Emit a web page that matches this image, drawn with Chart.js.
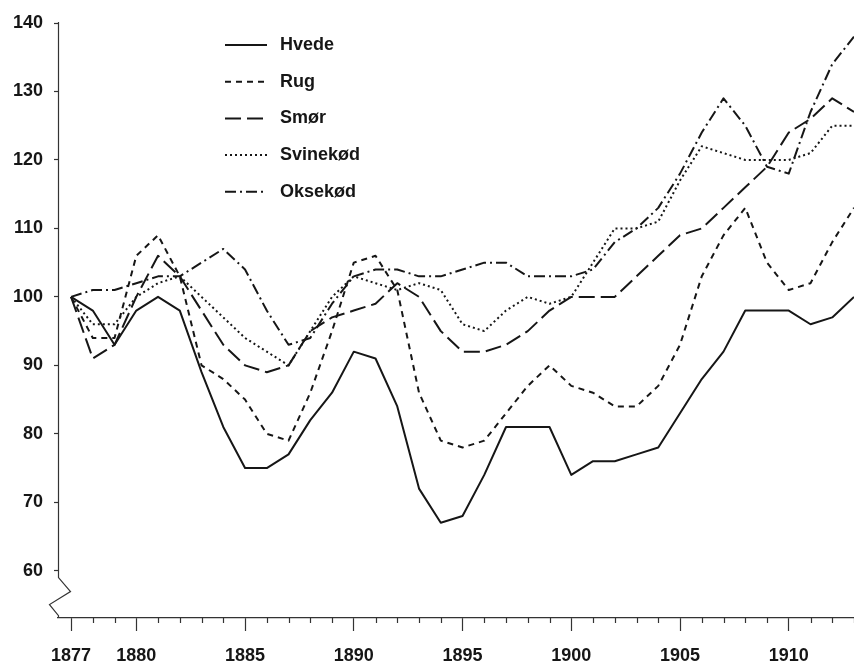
<!DOCTYPE html>
<html>
<head>
<meta charset="utf-8">
<script src="https://cdn.jsdelivr.net/npm/chart.js@4.4.1/dist/chart.umd.min.js"></script>
<style>
  html, body { margin: 0; padding: 0; background: #fff; }
  #wrap { width: 854px; height: 665px; }
</style>
</head>
<body>
<div id="wrap"><canvas id="chart" width="854" height="665"></canvas></div>
<script>
// år
const years = [1877, 1878, 1879, 1880, 1881, 1882, 1883, 1884, 1885, 1886,
               1887, 1888, 1889, 1890, 1891, 1892, 1893, 1894, 1895, 1896,
               1897, 1898, 1899, 1900, 1901, 1902, 1903, 1904, 1905, 1906,
               1907, 1908, 1909, 1910, 1911, 1912, 1913];

// prisindeks, 1877 = 100
const hvede = [100, 98, 93, 98, 100, 98, 89, 81, 75, 75,
               77, 82, 86, 92, 91, 84, 72, 67, 68, 74,
               81, 81, 81, 74, 76, 76, 77, 78, 83, 88,
               92, 98, 98, 98, 96, 97, 100];
const rug = [100, 94, 94, 106, 109, 103, 90, 88, 85, 80,
             79, 86, 95, 105, 106, 101, 86, 79, 78, 79,
             83, 87, 90, 87, 86, 84, 84, 87, 93, 103,
             109, 113, 105, 101, 102, 108, 113];
const smor = [100, 91, 93, 100, 106, 103, 98, 93, 90, 89,
              90, 95, 97, 98, 99, 102, 100, 95, 92, 92,
              93, 95, 98, 100, 100, 100, 103, 106, 109, 110,
              113, 116, 119, 124, 126, 129, 127];
const svinekod = [100, 96, 96, 100, 102, 103, 100, 97, 94, 92,
                  90, 95, 100, 103, 102, 101, 102, 101, 96, 95,
                  98, 100, 99, 100, 105, 110, 110, 111, 117, 122,
                  121, 120, 120, 120, 121, 125, 125];
const oksekod = [100, 101, 101, 102, 103, 103, 105, 107, 104, 98,
                 93, 94, 99, 103, 104, 104, 103, 103, 104, 105,
                 105, 103, 103, 103, 104, 108, 110, 113, 118, 124,
                 129, 125, 119, 118, 127, 134, 138];

// akser
const labelYears = [1877, 1880, 1885, 1890, 1895, 1900, 1905, 1910];
const yTicks = [60, 70, 80, 90, 100, 110, 120, 130, 140];

const ink = "#161616";
const font = { family: "'Liberation Sans', Arial, sans-serif", size: 18, weight: "bold" };

function series(label, values, dash) {
    return {
        label: label,
        data: years.map((yr, i) => ({ x: yr, y: values[i] })),
        borderColor: ink,
        borderWidth: 2,
        borderDash: dash,
        borderCapStyle: "butt",
        borderJoinStyle: "round",
        pointRadius: 0,
        tension: 0,
        fill: false
    };
}

// minor ticks, y-akse med brud, signaturforklaring
const decor = {
    id: "decor",
    afterDraw(chart) {
        const ctx = chart.ctx;
        const area = chart.chartArea;
        const xs = chart.scales.x;
        const ys = chart.scales.y;

        ctx.save();
        ctx.strokeStyle = "#333";
        ctx.lineWidth = 1.2;

        // små streger for hvert år
        years.forEach(yr => {
            if (labelYears.includes(yr)) return;
            const px = Math.round(xs.getPixelForValue(yr)) + 0.5;
            ctx.beginPath();
            ctx.moveTo(px, area.bottom);
            ctx.lineTo(px, area.bottom + 5);
            ctx.stroke();
        });

        // y-akse med brud
        const x0 = area.left + 0.5;
        const breakY = ys.getPixelForValue(59);
        ctx.beginPath();
        ctx.moveTo(x0, ys.getPixelForValue(140) - 1);
        ctx.lineTo(x0, breakY);
        ctx.lineTo(x0 + 12, breakY + 14);
        ctx.lineTo(x0 - 9, breakY + 27);
        ctx.lineTo(x0, breakY + 38);
        ctx.lineTo(x0, area.bottom);
        ctx.stroke();

        // signaturforklaring
        ctx.font = "bold 18px 'Liberation Sans', Arial, sans-serif";
        ctx.textBaseline = "middle";
        ctx.fillStyle = ink;
        chart.data.datasets.forEach((ds, i) => {
            const rowY = 45 + i * 36.7;
            ctx.setLineDash(ds.borderDash);
            ctx.lineWidth = 2;
            ctx.strokeStyle = ink;
            ctx.beginPath();
            ctx.moveTo(225, rowY);
            ctx.lineTo(267, rowY);
            ctx.stroke();
            ctx.setLineDash([]);
            ctx.fillText(ds.label, 280, rowY);
        });
        ctx.restore();
    }
};

const ctx = document.getElementById("chart").getContext("2d");

const chart = new Chart(ctx, {
    type: "line",
    data: {
        datasets: [
            series("Hvede", hvede, []),
            series("Rug", rug, [6, 5]),
            series("Smør", smor, [16, 6]),
            series("Svinekød", svinekod, [2, 3]),
            series("Oksekød", oksekod, [11, 4, 2, 4])
        ]
    },
    options: {
        responsive: false,
        animation: false,
        devicePixelRatio: 1,
        layout: { padding: { left: 13, top: 23, right: 0, bottom: 0 } },
        plugins: {
            legend: { display: false },
            tooltip: { enabled: false }
        },
        scales: {
            x: {
                type: "linear",
                min: 1876.4,
                max: 1913,
                afterBuildTicks: s => { s.ticks = labelYears.map(v => ({ value: v })); },
                afterFit: s => { s.height = 47; },
                ticks: {
                    autoSkip: false,
                    maxRotation: 0,
                    padding: 14,
                    color: ink,
                    font: font,
                    callback: v => String(v)
                },
                grid: {
                    drawOnChartArea: false,
                    tickLength: 13,
                    tickColor: "#333",
                    tickWidth: 1.2
                },
                border: { color: "#333", width: 1.2 }
            },
            y: {
                min: 53.1,
                max: 140,
                afterBuildTicks: s => { s.ticks = yTicks.map(v => ({ value: v })); },
                afterFit: s => { s.width = 45; },
                ticks: {
                    padding: 11,
                    color: ink,
                    font: font
                },
                grid: {
                    drawOnChartArea: false,
                    tickLength: 4,
                    tickColor: "#333",
                    tickWidth: 1.2
                },
                border: { display: false }
            }
        }
    },
    plugins: [decor]
});
</script>
</body>
</html>
